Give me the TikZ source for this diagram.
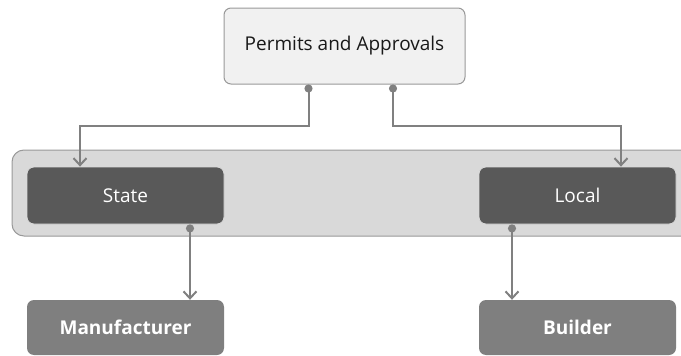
\documentclass[tikz,border=0pt]{standalone}
\usepackage{fontspec}
\setmainfont{Open Sans}
\usetikzlibrary{arrows.meta,positioning}
\definecolor{topfill}{HTML}{F1F1F1}
\definecolor{bandfill}{HTML}{D9D9D9}
\definecolor{darkfill}{HTML}{595959}
\definecolor{lowfill}{HTML}{7F7F7F}
\definecolor{linegray}{HTML}{808080}
\begin{document}
\begin{tikzpicture}[x=1pt,y=-1pt,
    node font=\fontsize{19}{23}\selectfont,
    basebox/.style={rectangle, rounded corners=7pt, inner sep=0pt, minimum width=197pt},
    topbox/.style={basebox, fill=topfill, draw=linegray!80, line width=1pt, minimum width=241pt, minimum height=76pt, text=black!90},
    midbox/.style={basebox, fill=darkfill, draw=white!85!black, line width=0.8pt, minimum height=57pt, text=white},
    lowbox/.style={basebox, fill=lowfill, minimum height=55pt, text=white, font=\bfseries},
    link/.style={draw=linegray, line width=2pt, {Circle[length=8pt]}-{Straight Barb[length=7pt,width=13pt,line width=2pt]}}]
    \useasboundingbox (0,0) rectangle (681,356);
    \clip (0,0) rectangle (681,356);
    \draw[fill=bandfill, draw=linegray!80, line width=1pt, rounded corners=12pt] (12,150) rectangle (720,236);
    \node[topbox] (permits) at (344.5,46) {Permits and Approvals};
    \node[midbox] (state) at (125.5,195.5) {State};
    \node[midbox] (local) at (577.5,195.5) {Local};
    \node[lowbox] (maker) at (125.5,327.5) {Manufacturer};
    \node[lowbox] (builder) at (577.5,327.5) {Builder};
    \draw[link] ([xshift=-36pt]permits.south) -- ++(0,41) -| ([xshift=-45.5pt]state.north);
    \draw[link] ([xshift=48.5pt]permits.south) -- ++(0,41) -| ([xshift=43.5pt]local.north);
    \draw[link] ([xshift=64.5pt]state.south) -- ([xshift=64.5pt]maker.north);
    \draw[link] ([xshift=-65.5pt]local.south) -- ([xshift=-65.5pt]builder.north);
\end{tikzpicture}
\end{document}
